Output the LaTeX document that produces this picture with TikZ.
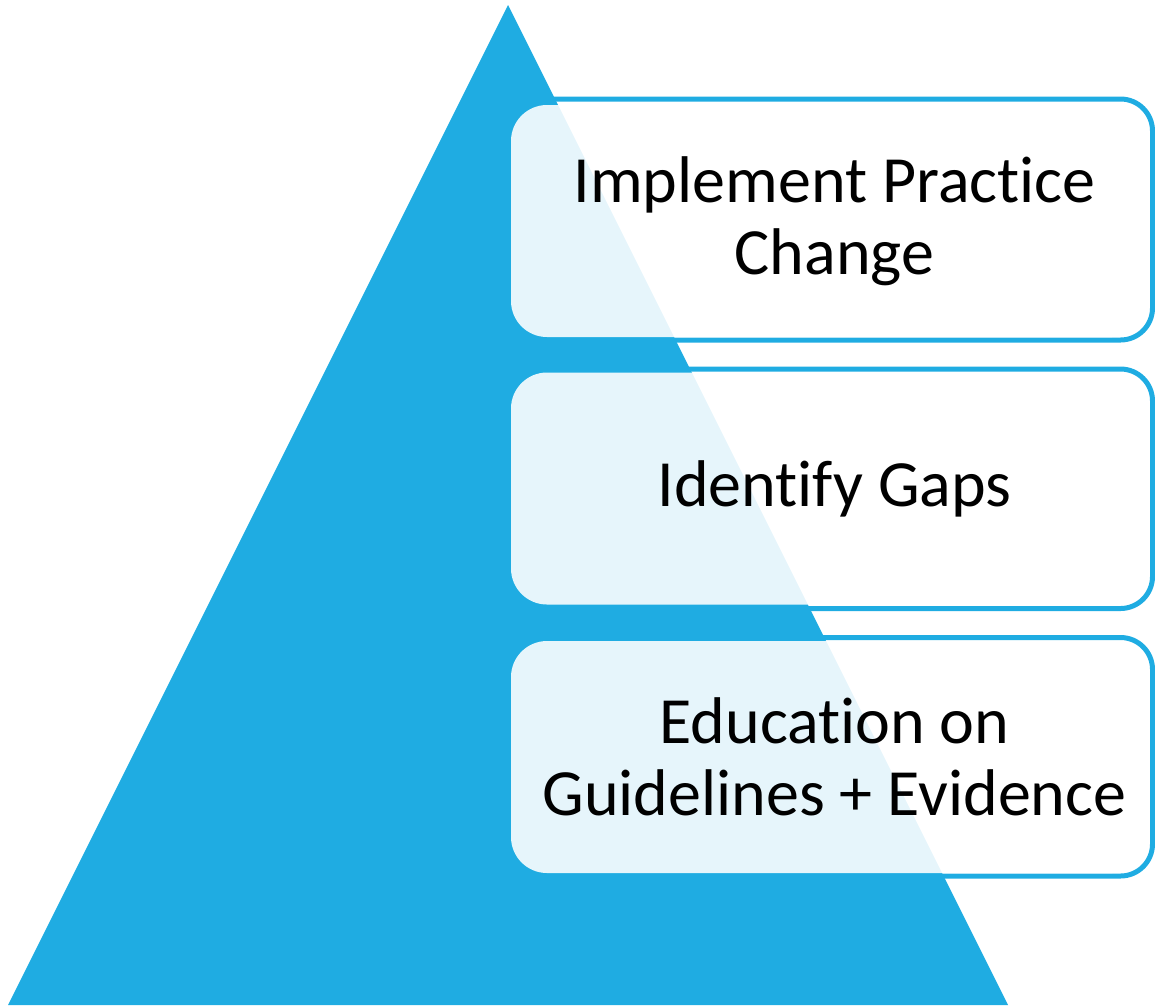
\documentclass[tikz,border=0pt]{standalone}
\usepackage{fontspec}
\setmainfont{Carlito}[Ligatures=NoCommon]
\usepackage{xcolor}
\usepackage{tikz}
\definecolor{pyrblue}{RGB}{31,172,226}
\tikzset{
    rim/.style = {draw=pyrblue, line width=5pt, rounded corners=32pt},
    step_box/.style = {rectangle, rounded corners=36pt, fill=white, fill opacity=0.89,
                       minimum width=637pt, minimum height=232pt, inner sep=0pt},
    step_text/.style = {align=center, inner sep=0pt, font=\fontsize{66}{72}\selectfont}
}

\begin{document}
\begin{tikzpicture}[x=1pt,y=-1pt]
    \useasboundingbox (0,0) rectangle (1155,1005);

    % outlines go under the pyramid
    \draw[rim] (500,99) rectangle (1152.5,340);
    \draw[rim] (500,369) rectangle (1152.5,608.5);
    \draw[rim] (500,637.5) rectangle (1152.5,876);

    \coordinate (apex) at (508,5);
    \coordinate (left) at (8,1005);
    \coordinate (right) at (1008,1005);
    \fill[pyrblue] (apex) -- (left) -- (right) -- cycle;

    \node [step_box] (change) at (829.5,221) {};
    \node [step_box] (gaps) at (829.5,488.5) {};
    \node [step_box] (educ) at (829.5,757) {};

    \node [step_text] (change_t) at ([xshift=5pt]change.center) {Implement Practice\\Change};
    \node [step_text] (gaps_t) at ([xshift=5pt]gaps.center) {Identify Gaps};
    \node [step_text] (educ_t) at ([xshift=5pt]educ.center) {Education on\\Guidelines + Evidence};
\end{tikzpicture}
\end{document}
